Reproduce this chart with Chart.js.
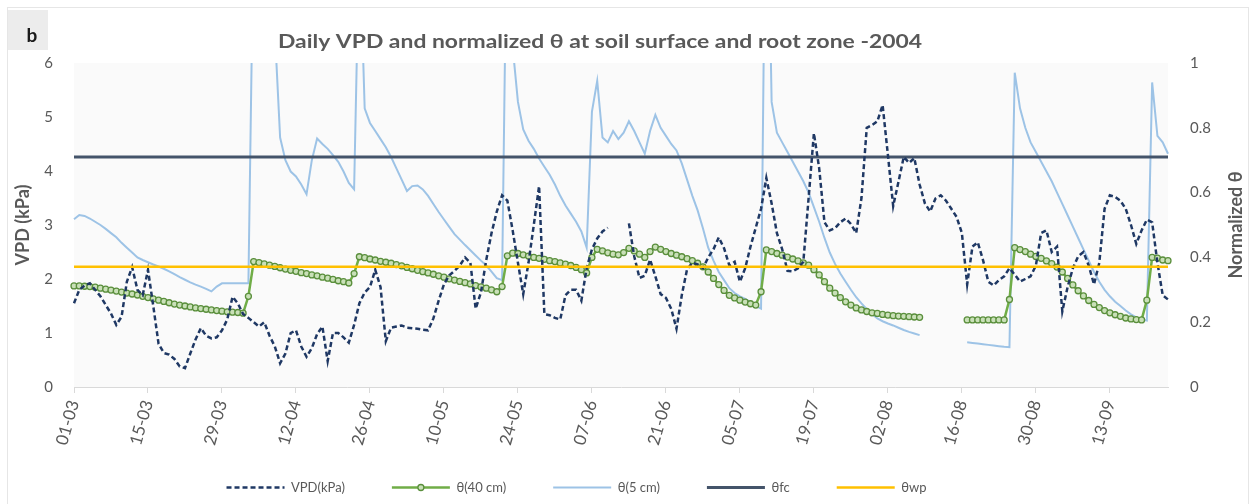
<!DOCTYPE html>
<html>
<head>
<meta charset="utf-8">
<script src="https://cdn.jsdelivr.net/npm/chart.js@4.4.1/dist/chart.umd.min.js"></script>
<style>
  html, body { margin: 0; padding: 0; background: #fff; }
  #wrap { position: relative; width: 1251px; height: 504px; }
</style>
</head>
<body>
<div id="wrap"><canvas id="chart" width="1251" height="504"></canvas></div>
<script>
(() => {
  const TITLE = "Daily VPD and normalized θ at soil surface and root zone -2004";
  const PANEL = "b";

  // daily categories 01-03 .. 24-09 (2004)
  const MONTH_LEN = { 3: 31, 4: 30, 5: 31, 6: 30, 7: 31, 8: 31, 9: 30 };
  const N_DAYS = 208;
  const LABEL_EVERY = 14;
  const DATES = [];
  {
    let d = 1, m = 3;
    for (let i = 0; i < N_DAYS; i++) {
      DATES.push(String(d).padStart(2, "0") + "-" + String(m).padStart(2, "0"));
      d++;
      if (d > MONTH_LEN[m]) { d = 1; m++; }
    }
  }

  // VPD (kPa), left axis
  const VPD = [
    1.55, 1.80, 1.88, 1.92, 1.80, 1.68, 1.52, 1.36, 1.15, 1.30,
    1.95, 2.22, 1.80, 1.70, 2.17, 1.50, 0.80, 0.63, 0.60, 0.52,
    0.38, 0.35, 0.62, 0.88, 1.09, 0.95, 0.90, 0.92, 1.05, 1.25,
    1.67, 1.55, 1.35, 1.28, 1.20, 1.12, 1.20, 0.95, 0.75, 0.44,
    0.62, 1.00, 1.05, 0.75, 0.56, 0.72, 0.98, 1.12, 0.48, 1.00,
    1.00, 0.92, 0.82, 1.15, 1.55, 1.75, 1.85, 2.17, 1.85, 0.85,
    1.10, 1.12, 1.14, 1.10, 1.09, 1.08, 1.06, 1.05, 1.27, 1.60,
    1.90, 2.07, 2.15, 2.25, 2.40, 2.30, 1.45, 1.75, 2.35, 2.85,
    3.25, 3.55, 3.45, 2.90, 2.30, 1.72, 2.30, 3.00, 3.72, 1.35,
    1.33, 1.28, 1.25, 1.70, 1.80, 1.80, 1.60, 2.20, 2.55, 2.75,
    2.88, 2.95, null, null, null, 3.03, 2.42, 2.02, 2.06, 2.36,
    2.05, 1.72, 1.65, 1.45, 1.08, 1.70, 2.18, 2.30, 2.27, 2.20,
    2.40, 2.55, 2.77, 2.57, 2.25, 2.32, 1.95, 2.20, 2.60, 2.95,
    3.30, 3.87, 3.40, 2.85, 2.55, 2.15, 2.14, 2.20, 2.32, 3.50,
    4.70, 4.05, 3.05, 2.90, 2.94, 3.05, 3.12, 3.02, 2.85, 3.50,
    4.80, 4.85, 4.92, 5.22, 4.30, 3.35, 3.80, 4.26, 4.15, 4.24,
    3.75, 3.40, 3.25, 3.49, 3.55, 3.45, 3.30, 3.15, 2.85, 1.90,
    2.60, 2.68, 2.35, 1.95, 1.88, 1.98, 2.05, 2.20, 2.08, 1.95,
    2.00, 2.05, 2.25, 2.85, 2.90, 2.50, 2.60, 1.40, 1.85, 2.20,
    2.42, 2.50, 2.25, 1.90, 2.30, 3.30, 3.55, 3.52, 3.45, 3.30,
    3.00, 2.65, 2.90, 3.10, 3.05, 2.30, 1.70, 1.62
  ];

  // normalized θ at 40 cm, right axis
  const THETA_40 = [
    0.312, 0.312, 0.311, 0.310, 0.308, 0.305, 0.302, 0.299, 0.296, 0.293,
    0.290, 0.287, 0.284, 0.280, 0.276, 0.272, 0.268, 0.264, 0.260, 0.256,
    0.253, 0.250, 0.247, 0.244, 0.242, 0.240, 0.238, 0.236, 0.234, 0.232,
    0.231, 0.230, 0.228, 0.280, 0.387, 0.384, 0.380, 0.376, 0.372, 0.368,
    0.364, 0.360, 0.357, 0.353, 0.350, 0.346, 0.343, 0.339, 0.336, 0.332,
    0.328, 0.325, 0.321, 0.350, 0.402, 0.399, 0.395, 0.392, 0.388, 0.385,
    0.382, 0.378, 0.374, 0.369, 0.365, 0.360, 0.356, 0.352, 0.348, 0.343,
    0.339, 0.334, 0.330, 0.326, 0.322, 0.318, 0.313, 0.309, 0.305, 0.300,
    0.294, 0.310, 0.405, 0.413, 0.412, 0.408, 0.404, 0.400, 0.397, 0.394,
    0.390, 0.387, 0.383, 0.379, 0.375, 0.369, 0.362, 0.352, 0.400, 0.425,
    0.420, 0.414, 0.410, 0.408, 0.415, 0.428, 0.420, 0.410, 0.400, 0.418,
    0.432, 0.425, 0.418, 0.412, 0.407, 0.402, 0.396, 0.390, 0.382, 0.371,
    0.355, 0.335, 0.316, 0.298, 0.283, 0.275, 0.268, 0.262, 0.257, 0.253,
    0.294, 0.423, 0.418, 0.412, 0.407, 0.401, 0.395, 0.389, 0.383, 0.376,
    0.362, 0.346, 0.325, 0.305, 0.290, 0.276, 0.263, 0.253, 0.244, 0.238,
    0.233, 0.229, 0.227, 0.224, 0.222, 0.220, 0.219, 0.218, 0.217, 0.216,
    0.215, null, null, null, null, null, null, null, null, 0.207,
    0.207, 0.207, 0.207, 0.207, 0.207, 0.207, 0.207, 0.270, 0.430, 0.424,
    0.418, 0.410, 0.403, 0.397, 0.389, 0.381, 0.370, 0.355, 0.335, 0.315,
    0.297, 0.281, 0.267, 0.255, 0.245, 0.236, 0.229, 0.223, 0.218, 0.213,
    0.210, 0.208, 0.207, 0.268, 0.400, 0.398, 0.392, 0.390
  ];

  // normalized θ at 5 cm, right axis (values above 1 run off the top)
  const THETA_5 = [
    0.518, 0.531, 0.528, 0.520, 0.510, 0.500, 0.488, 0.475, 0.462, 0.445,
    0.430, 0.415, 0.400, 0.392, 0.385, 0.378, 0.372, 0.365, 0.357, 0.348,
    0.339, 0.331, 0.323, 0.316, 0.310, 0.303, 0.295, 0.310, 0.320, 0.320,
    0.320, 0.320, 0.320, 0.320, 1.450, 1.300, 1.300, 1.300, 1.100, 0.770,
    0.700, 0.665, 0.650, 0.625, 0.595, 0.700, 0.767, 0.750, 0.735, 0.716,
    0.695, 0.665, 0.630, 0.610, 1.400, 0.860, 0.815, 0.790, 0.765, 0.740,
    0.710, 0.675, 0.640, 0.605, 0.620, 0.622, 0.610, 0.590, 0.565, 0.540,
    0.517, 0.494, 0.472, 0.455, 0.438, 0.422, 0.406, 0.390, 0.375, 0.356,
    0.336, 0.330, 1.600, 1.050, 0.880, 0.795, 0.760, 0.735, 0.705, 0.680,
    0.655, 0.625, 0.590, 0.560, 0.535, 0.510, 0.480, 0.430, 0.850, 0.945,
    0.770, 0.755, 0.790, 0.765, 0.785, 0.820, 0.790, 0.755, 0.720, 0.790,
    0.840, 0.800, 0.775, 0.750, 0.730, 0.690, 0.640, 0.590, 0.545, 0.490,
    0.430, 0.390, 0.355, 0.330, 0.305, 0.290, 0.280, 0.272, 0.262, 0.250,
    0.242, 1.800, 0.880, 0.785, 0.755, 0.725, 0.695, 0.665, 0.635, 0.600,
    0.555, 0.510, 0.460, 0.415, 0.380, 0.350, 0.325, 0.300, 0.277, 0.258,
    0.240, 0.225, 0.212, 0.203, 0.196, 0.190, 0.183, 0.176, 0.170, 0.165,
    0.160, null, null, null, null, null, null, null, null, 0.138,
    0.136, 0.134, 0.132, 0.130, 0.128, 0.126, 0.124, 0.123, 0.970, 0.860,
    0.800, 0.755, 0.725, 0.695, 0.665, 0.635, 0.600, 0.565, 0.530, 0.495,
    0.460, 0.425, 0.390, 0.355, 0.325, 0.300, 0.280, 0.263, 0.250, 0.236,
    0.224, 0.215, 0.208, 0.205, 0.940, 0.775, 0.755, 0.720
  ];

  const THETA_FC = 0.71;
  const THETA_WP = 0.371;

  [VPD, THETA_40, THETA_5].forEach((s, i) => {
    if (s.length !== N_DAYS) throw new Error("series " + i + " has " + s.length + " values");
  });

  const GREY = "#595959";
  const FONT = "Lato";
  const LEGEND_SHIFT = 49;
  const TITLE_WIDTH = 644;
  const SAMPLE_W = 58;

  const flat = (v) => [{ x: DATES[0], y: v }, { x: DATES[N_DAYS - 1], y: v }];

  const frame = {
    id: "frame",
    beforeDraw(chart) {
      const { ctx, chartArea: a } = chart;
      ctx.save();
      ctx.fillStyle = "#fff";
      ctx.fillRect(0, 0, chart.width, chart.height);
      ctx.strokeStyle = "#e6e6e6";
      ctx.lineWidth = 1;
      ctx.strokeRect(7.5, 7.5, chart.width - 10, chart.height - 4);
      ctx.fillStyle = "#fafafa";
      ctx.fillRect(a.left, a.top, a.right - a.left, a.bottom - a.top);
      // panel letter
      ctx.fillStyle = "#ececec";
      ctx.fillRect(8, 10, 40, 40);
      ctx.fillStyle = "#1a1a1a";
      ctx.font = "bold 19px " + FONT;
      ctx.textAlign = "center";
      ctx.textBaseline = "alphabetic";
      ctx.fillText(PANEL, 32, 42);
      // title, widened to the width it has in the figure
      ctx.fillStyle = GREY;
      ctx.font = "bold 18px " + FONT;
      const tw = ctx.measureText(TITLE).width;
      ctx.translate(600, 48);
      ctx.scale(TITLE_WIDTH / tw, 1);
      ctx.fillText(TITLE, 0, 0);
      ctx.setTransform(1, 0, 0, 1, 0, 0);
      // axis titles, both read bottom to top
      const midY = (a.top + a.bottom) / 2;
      ctx.font = "bold 18px " + FONT;
      ctx.textBaseline = "middle";
      ctx.translate(23, midY);
      ctx.rotate(-Math.PI / 2);
      ctx.fillText("VPD (kPa)", 0, 0);
      ctx.setTransform(1, 0, 0, 1, 0, 0);
      ctx.translate(1236, midY);
      ctx.rotate(-Math.PI / 2);
      ctx.fillText("Normalized θ", 0, 0);
      ctx.restore();
    },
    afterLayout(chart) {
      chart.legend.left -= LEGEND_SHIFT;
      chart.legend.right -= LEGEND_SHIFT;
      // let the rotated date labels run below the (short) x box instead of being clipped
      chart.scales.x.bottom = chart.height;
    },
    afterDraw(chart) {
      // marker in the middle of the θ(40 cm) legend sample
      const hb = chart.legend.legendHitBoxes[1];
      const ds = chart.data.datasets[1];
      if (!hb) return;
      const { ctx } = chart;
      ctx.save();
      ctx.beginPath();
      ctx.arc(hb.left + SAMPLE_W / 2, hb.top + hb.height / 2, ds.pointRadius, 0, Math.PI * 2);
      ctx.fillStyle = ds.pointBackgroundColor;
      ctx.fill();
      ctx.lineWidth = ds.pointBorderWidth;
      ctx.strokeStyle = ds.pointBorderColor;
      ctx.stroke();
      ctx.restore();
    }
  };

  Chart.defaults.font.family = FONT;
  Chart.defaults.color = GREY;

  new Chart(document.getElementById("chart"), {
    type: "line",
    data: {
      labels: DATES,
      datasets: [
        {
          label: "VPD(kPa)", data: VPD, yAxisID: "y",
          borderColor: "#1f3864", borderWidth: 2.5, borderDash: [5, 3],
          pointRadius: 0, order: 1
        },
        {
          label: "θ(40 cm)", data: THETA_40, yAxisID: "y2",
          borderColor: "#70ad47", borderWidth: 2.5,
          pointRadius: 3, pointBorderWidth: 1.3,
          pointBorderColor: "#5a8f3c", pointBackgroundColor: "#c9e0b8",
          order: 3
        },
        {
          label: "θ(5 cm)", data: THETA_5, yAxisID: "y2",
          borderColor: "#9dc3e6", borderWidth: 2, pointRadius: 0, order: 4
        },
        {
          label: "θfc", data: flat(THETA_FC), yAxisID: "y2",
          borderColor: "#44546a", borderWidth: 3, pointRadius: 0, order: 2
        },
        {
          label: "θwp", data: flat(THETA_WP), yAxisID: "y2",
          borderColor: "#ffc000", borderWidth: 2.5, pointRadius: 0, order: 0
        }
      ]
    },
    options: {
      responsive: false,
      animation: false,
      devicePixelRatio: 1,
      spanGaps: false,
      layout: { padding: { top: 63, left: 0, right: 0, bottom: 0 } },
      plugins: {
        title: { display: false },
        tooltip: { enabled: false },
        legend: {
          position: "bottom",
          labels: {
            usePointStyle: true,
            pointStyle: "line",
            pointStyleWidth: SAMPLE_W,
            padding: 47,
            color: GREY,
            font: { family: FONT, size: 13 },
            generateLabels: (chart) => chart.data.datasets.map((ds, i) => ({
              text: ds.label,
              datasetIndex: i,
              strokeStyle: ds.borderColor,
              fillStyle: ds.borderColor,
              lineWidth: ds.borderWidth,
              lineDash: ds.borderDash || [],
              pointStyle: "line",
              hidden: false,
              fontColor: GREY
            }))
          }
        }
      },
      scales: {
        x: {
          type: "category",
          offset: false,
          grid: {
            display: true, drawOnChartArea: false, drawTicks: true, tickLength: 6,
            color: (c) => (c.index % LABEL_EVERY === 0 ? "#d9d9d9" : "rgba(0,0,0,0)")
          },
          border: { display: true, color: "#d9d9d9", width: 1 },
          ticks: {
            autoSkip: false, minRotation: 74, maxRotation: 74, padding: 5,
            color: GREY, font: { family: FONT, size: 17 },
            callback: (v, i) => (i % LABEL_EVERY === 0 ? DATES[i] : "")
          },
          afterFit: (s) => { s.height = 47; }
        },
        y: {
          position: "left", min: 0, max: 6,
          grid: { display: false, drawTicks: false },
          border: { display: false },
          ticks: { stepSize: 1, padding: 21, color: GREY, font: { family: FONT, size: 15 } },
          afterFit: (s) => { s.width = 74; }
        },
        y2: {
          position: "right", min: 0, max: 1,
          grid: { display: false, drawTicks: false },
          border: { display: false },
          ticks: {
            stepSize: 0.2, padding: 22, color: GREY, font: { family: FONT, size: 15 },
            callback: (v) => String(Number(v.toFixed(2)))
          },
          afterFit: (s) => { s.width = 83; }
        }
      }
    },
    plugins: [frame]
  });
})();
</script>
</body>
</html>
